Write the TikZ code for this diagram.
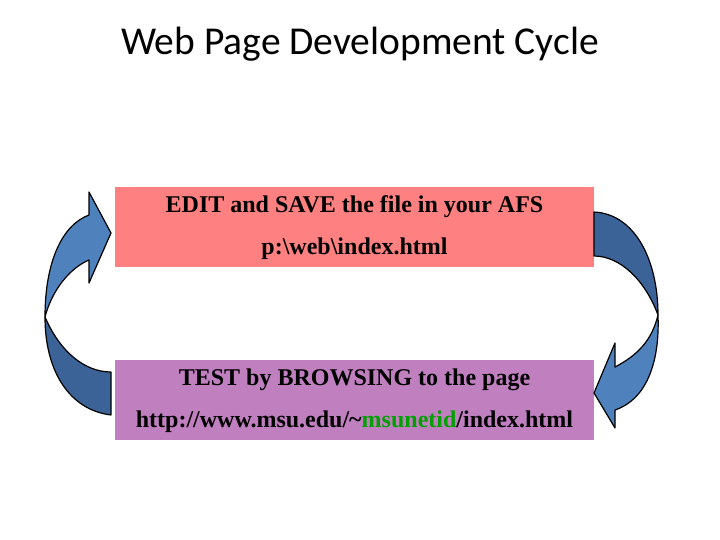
\documentclass[tikz,border=0pt]{standalone}
\usepackage{fontspec}
\setmainfont{Liberation Serif}
\newfontfamily\titlefont{Carlito}
\definecolor{lightb}{HTML}{4F81BD}
\definecolor{darkb}{HTML}{3C6398}
\definecolor{pinkbox}{HTML}{FF8080}
\definecolor{purplebox}{HTML}{C080C0}
\definecolor{greentxt}{HTML}{00A000}
\begin{document}
\begin{tikzpicture}[x=1pt,y=-1pt,
  boxst/.style={draw=none,minimum width=479pt,minimum height=80pt,inner sep=0pt},
  txt/.style={font=\bfseries\fontsize{24}{28}\selectfont},
  arr/.style={draw=black,line width=1.2pt,line join=round}]
\useasboundingbox (0,0) rectangle (720,540);
\node[font=\titlefont\fontsize{39.5}{46}\selectfont] (title) at (360,44) {Web Page Development Cycle};
\node[boxst,fill=pinkbox,anchor=north west] (edit) at (115,187) {};
\node[txt] (e1) at (354.5,207) {EDIT and SAVE the file in your AFS};
\node[txt] (e2) at (354.5,249) {p:\textbackslash web\textbackslash index.html};
\node[boxst,fill=purplebox,anchor=north west] (test) at (115,360) {};
\node[txt] (t1) at (354.5,380) {TEST by BROWSING to the page};
\node[txt] (t2) at (354.5,422) {http://www.msu.edu/\char`\~\textcolor{greentxt}{msunetid}/index.html};
% left arrow
\path[arr,fill=darkb] (111,415) .. controls (70,410) and (45,372) .. (45,317)
  .. controls (60,352) and (85,372) .. (111,372) -- cycle;
\path[arr,fill=lightb] (45,317) .. controls (45,262) and (62,225) .. (89,215)
  -- (89,192) -- (111,233) -- (89,283) -- (89,260)
  .. controls (70,268) and (52,290) .. (45,317) -- cycle;
% right arrow
\path[arr,fill=darkb] (594,212) .. controls (635,214) and (658,260) .. (658,315)
  .. controls (645,280) and (620,256) .. (594,256) -- cycle;
\path[arr,fill=lightb] (658,315) .. controls (660,365) and (645,400) .. (615,410)
  -- (615,428) -- (594,393) -- (615,343) -- (615,367)
  .. controls (638,355) and (652,340) .. (658,315) -- cycle;
\end{tikzpicture}
\end{document}
